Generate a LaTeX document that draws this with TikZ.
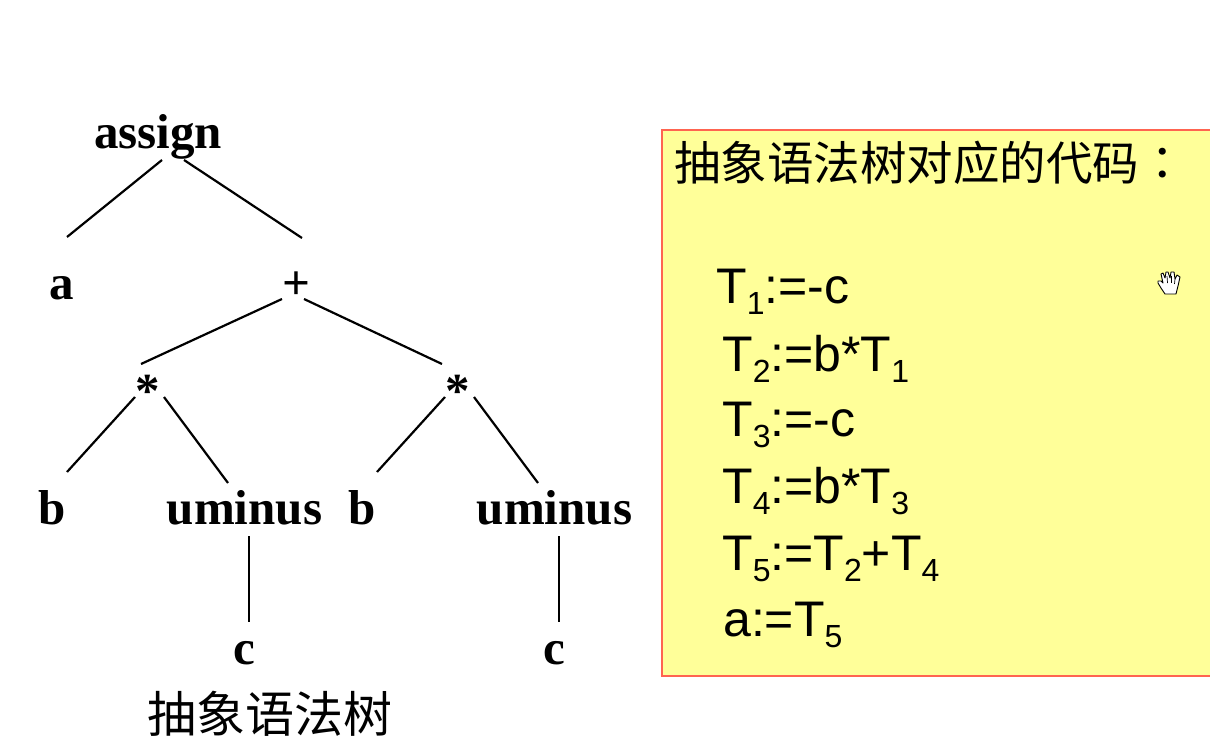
\documentclass[tikz,border=0pt]{standalone}
\usepackage{fontspec}
\setmainfont{Liberation Serif}
\setsansfont{Liberation Sans}
\newfontfamily\cjk{Noto Sans CJK SC}
\newfontfamily\cjktc{Noto Sans CJK TC}
\begin{document}
\begin{tikzpicture}[x=1pt,y=-1pt,
  treelabel/.style={font=\rmfamily\bfseries\fontsize{49}{52}\selectfont,inner sep=0pt,anchor=base},
  edgeline/.style={line width=2.2pt,black},
  codeline/.style={font=\sffamily\fontsize{50}{54}\selectfont,inner sep=0pt,anchor=base west}]
\useasboundingbox (0,0) rectangle (1210,743);
\fill[white] (0,0) rectangle (1210,743);
\node[draw={rgb,255:red,255;green,100;blue,80},fill={rgb,255:red,255;green,255;blue,153},line width=1.5pt,minimum width=560pt,minimum height=545.5pt,anchor=north west,inner sep=0pt] (panel) at (661,129.5) {};
\node[treelabel] (assign) at (158,149) {assign};
\node[treelabel] (a) at (62,300) {a};
\node[treelabel] (plus) at (296,300) {+};
\node[treelabel] (s1) at (148,407) {*};
\node[treelabel] (s2) at (458,407) {*};
\node[treelabel] (b1) at (52,524) {b};
\node[treelabel] (u1) at (244.5,524) {uminus};
\node[treelabel] (b2) at (362,524) {b};
\node[treelabel] (u2) at (554.5,524) {uminus};
\node[treelabel] (c1) at (244,664) {c};
\node[treelabel] (c2) at (554,664) {c};
\coordinate (e1a) at (162,160); \coordinate (e1b) at (67,237);
\coordinate (e2a) at (184,160); \coordinate (e2b) at (302,238);
\coordinate (e3a) at (282,299); \coordinate (e3b) at (141,364);
\coordinate (e4a) at (304,299); \coordinate (e4b) at (442,364);
\coordinate (e5a) at (135,397); \coordinate (e5b) at (67,472);
\coordinate (e6a) at (164,397); \coordinate (e6b) at (228,483);
\coordinate (e7a) at (445,397); \coordinate (e7b) at (377,472);
\coordinate (e8a) at (474,397); \coordinate (e8b) at (538,483);
\coordinate (e9a) at (249,536); \coordinate (e9b) at (249,622);
\coordinate (e10a) at (559,536); \coordinate (e10b) at (559,622);
\draw[edgeline] (e1a) -- (e1b);
\draw[edgeline] (e2a) -- (e2b);
\draw[edgeline] (e3a) -- (e3b);
\draw[edgeline] (e4a) -- (e4b);
\draw[edgeline] (e5a) -- (e5b);
\draw[edgeline] (e6a) -- (e6b);
\draw[edgeline] (e7a) -- (e7b);
\draw[edgeline] (e8a) -- (e8b);
\draw[edgeline] (e9a) -- (e9b);
\draw[edgeline] (e10a) -- (e10b);
\node[font=\cjk\fontsize{49}{52}\selectfont,inner sep=0pt,anchor=base] (cap) at (269.5,732) {抽象语法树};
\node[font=\cjk\fontsize{46.5}{50}\selectfont,inner sep=0pt,anchor=base west] (title) at (674,181) {抽象语法树对应的代码{\cjktc ：}};
\newcommand{\sbs}[1]{\raisebox{-11pt}{\fontsize{32}{32}\selectfont #1}}
\node[codeline] (l1) at (716,304) {T\sbs{1}:=-c};
\node[codeline] (l2) at (722,371) {T\sbs{2}:=b*T\sbs{1}};
\node[codeline] (l3) at (722,436) {T\sbs{3}:=-c};
\node[codeline] (l4) at (722,503) {T\sbs{4}:=b*T\sbs{3}};
\node[codeline] (l5) at (722,570) {T\sbs{5}:=T\sbs{2}+T\sbs{4}};
\node[codeline] (l6) at (723,636) {a:=T\sbs{5}};
% hand cursor
\draw[fill=white,draw=black,line width=0.9pt,line join=round]
 (1165,294) -- (1161,288) -- (1158,283) -- (1158,281) -- (1161,281) -- (1163,283)
 -- (1161,274) -- (1163,273) -- (1165,278)
 -- (1166,272) -- (1168,272) -- (1170,278)
 -- (1171,272) -- (1174,272) -- (1175,279)
 -- (1177,275) -- (1180,277) -- (1178,286) -- (1176,294) -- cycle;
\draw[black,line width=0.7pt] (1167,276) -- (1167.5,283) (1171.5,276) -- (1171.5,283) (1175,279) -- (1174.5,284);
\end{tikzpicture}
\end{document}
